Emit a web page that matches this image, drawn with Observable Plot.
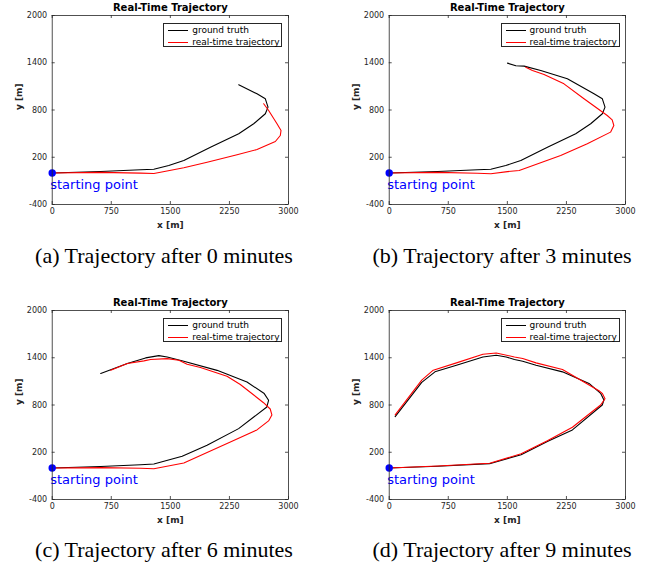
<!DOCTYPE html>
<html><head><meta charset="utf-8">
<script src="https://cdn.jsdelivr.net/npm/d3@7"></script>
<script src="https://cdn.jsdelivr.net/npm/@observablehq/plot@0.6"></script>
<style>
html,body{margin:0;padding:0;background:#fff;}
#fig{position:relative;width:656px;height:568px;overflow:hidden;background:#fff;}
.panel{position:absolute;}
.cap{position:absolute;width:330px;text-align:center;font-family:"Liberation Serif","Times New Roman",serif;font-size:22px;line-height:26px;color:#000;white-space:pre;}
.legend{position:absolute;box-sizing:border-box;border:1px solid #262626;background:#fff;font-family:"DejaVu Sans",sans-serif;font-size:9px;color:#000;}
.legend .row{position:absolute;left:4px;height:12px;line-height:12px;white-space:nowrap;}
.legend .sw{display:inline-block;width:20px;height:1.2px;vertical-align:middle;margin-right:4px;}
</style></head><body><div id="fig"></div>
<script>
// ---- data ----
const xTicks = [0, 750, 1500, 2250, 3000];
const yTicks = [-400, 200, 800, 1400, 2000];
const startPoint = [[0, 0]];
const startLabel = "starting point";
const titleText = "Real-Time Trajectory";
const xLabel = "x [m]";
const yLabel = "y [m]";
const seriesNames = ["ground truth", "real-time trajectory"];
const seriesColors = ["#000000", "#ff0000"];
const captions = ["(a) Trajectory after 0 minutes", "(b) Trajectory after 3 minutes",
                  "(c) Trajectory after 6 minutes", "(d) Trajectory after 9 minutes"];

// (a) after 0 minutes
const gtA = [[0,0],[616,19],[1122,41],[1290,48],[1480,95],[1671,159],[2009,328],[2368,498],[2558,625],[2706,752],[2740,836],[2706,942],[2600,1006],[2368,1120]];
const rtA = [[0,0],[616,8],[1122,-2],[1291,-6],[1375,10],[1671,66],[1967,137],[2347,231],[2600,298],[2833,400],[2896,476],[2905,540],[2854,625],[2748,794],[2685,879]];
// (b) after 3 minutes
const gtB = [[0,0],[616,19],[1122,41],[1290,48],[1480,95],[1671,159],[2009,328],[2368,498],[2558,625],[2706,752],[2740,836],[2706,942],[2600,1006],[2262,1196],[1924,1302],[1713,1357],[1608,1361],[1502,1395]];
const rtB = [[0,0],[616,8],[1122,-4],[1291,-10],[1502,18],[1650,32],[2177,222],[2515,370],[2810,519],[2852,603],[2831,675],[2768,730],[2473,942],[2219,1132],[1966,1251],[1818,1302],[1734,1344]];
// (c) after 6 minutes
const gtC = [[0,0],[616,19],[1122,41],[1291,50],[1650,150],[1966,290],[2367,500],[2725,775],[2747,860],[2692,945],[2473,1092],[2093,1240],[1671,1356],[1460,1410],[1354,1427],[1186,1398],[954,1326],[616,1200]];
const rtC = [[0,0],[616,5],[1122,-4],[1291,-9],[1671,63],[2304,349],[2599,484],[2747,598],[2789,674],[2768,749],[2683,829],[2388,1061],[2219,1166],[1882,1276],[1713,1318],[1608,1368],[1460,1389],[1249,1377],[1165,1360],[954,1326],[743,1242]];
// (d) after 9 minutes
const gtD = [[0,0],[616,22],[1275,55],[1675,169],[2008,337],[2326,484],[2705,800],[2726,863],[2684,948],[2537,1074],[2200,1221],[1864,1305],[1695,1356],[1590,1377],[1485,1410],[1359,1432],[1190,1410],[854,1305],[581,1221],[413,1087],[76,652]];
const rtD = [[0,0],[616,25],[1275,60],[1675,180],[2008,345],[2326,518],[2684,800],[2740,880],[2705,948],[2663,981],[2200,1251],[1864,1335],[1695,1390],[1590,1410],[1359,1461],[1190,1444],[854,1335],[559,1242],[413,1116],[76,674]];

// ---- layout ----
const W = 310, H = 235, ML = 51.7, MT = 15, MR = W - 288, MB = H - 204;
const PW = W - ML - MR, PH = H - MT - MB;
const axisColor = "#262626";
const fmt = d => String(d);

function panel(gt, rt) {
  return Plot.plot({
    width: W, height: H,
    marginLeft: ML, marginTop: MT, marginRight: MR, marginBottom: MB,
    style: {fontFamily: "DejaVu Sans, sans-serif", fontSize: "8px", color: axisColor, background: "transparent", overflow: "visible"},
    x: {domain: [0, 3000]},
    y: {domain: [-400, 2000]},
    marks: [
      Plot.axisX(xTicks, {tickSize: 0, tickPadding: 3.5, fontSize: 8, fill: axisColor, label: null, tickFormat: fmt}),
      Plot.axisY(yTicks, {tickSize: 0, tickPadding: 5, fontSize: 8, fill: axisColor, label: null, tickFormat: fmt}),
      Plot.ruleX(xTicks, {insetTop: PH - 3, stroke: axisColor, strokeWidth: 0.8}),
      Plot.ruleX(xTicks, {insetBottom: PH - 3, stroke: axisColor, strokeWidth: 0.8}),
      Plot.ruleY(yTicks, {insetRight: PW - 3, stroke: axisColor, strokeWidth: 0.8}),
      Plot.ruleY(yTicks, {insetLeft: PW - 3, stroke: axisColor, strokeWidth: 0.8}),
      Plot.line(gt, {x: d => d[0], y: d => d[1], stroke: seriesColors[0], strokeWidth: 1.1}),
      Plot.line(rt, {x: d => d[0], y: d => d[1], stroke: seriesColors[1], strokeWidth: 1.1}),
      Plot.dot(startPoint, {x: d => d[0], y: d => d[1], r: 3.7, fill: "#0000ff", stroke: null}),
      Plot.text(startPoint, {x: d => d[0], y: d => d[1], text: () => startLabel, textAnchor: "start", lineAnchor: "middle", dx: -2, dy: 12, fill: "#0000ff", fontSize: 13}),
      Plot.frame({stroke: axisColor, strokeWidth: 0.8}),
      Plot.text([titleText], {text: d => d, frameAnchor: "top", lineAnchor: "middle", dy: -8, fontWeight: "bold", fontSize: 10, fill: "#000"}),
      Plot.text([xLabel], {text: d => d, frameAnchor: "bottom", lineAnchor: "middle", dy: 21, fontWeight: "bold", fontSize: 9, fill: axisColor}),
      Plot.text([yLabel], {text: d => d, frameAnchor: "left", rotate: -90, dx: -33, fontWeight: "bold", fontSize: 9, fill: axisColor})
    ]
  });
}

const fig = document.getElementById("fig");
const panels = [
  {gt: gtA, rt: rtA, left: 0, top: 0},
  {gt: gtB, rt: rtB, left: 337.3, top: 0},
  {gt: gtC, rt: rtC, left: 0, top: 295},
  {gt: gtD, rt: rtD, left: 337.3, top: 295}
];
panels.forEach((p, i) => {
  const div = document.createElement("div");
  div.className = "panel";
  div.style.left = p.left + "px";
  div.style.top = p.top + "px";
  div.appendChild(panel(p.gt, p.rt));
  fig.appendChild(div);

  // legend (inside the axes, top right)
  const lg = document.createElement("div");
  lg.className = "legend";
  lg.style.left = (p.left + ML + 111.5) + "px";
  lg.style.top = (p.top + MT + 8) + "px";
  lg.style.width = "119px";
  lg.style.height = "24px";
  seriesNames.forEach((name, j) => {
    const row = document.createElement("div");
    row.className = "row";
    row.style.top = (j * 12) + "px";
    const sw = document.createElement("span");
    sw.className = "sw";
    sw.style.background = seriesColors[j];
    row.appendChild(sw);
    row.appendChild(document.createTextNode(name));
    lg.appendChild(row);
  });
  fig.appendChild(lg);

  // caption
  const cap = document.createElement("div");
  cap.className = "cap";
  const cx = i % 2 === 0 ? 164 : 502;
  const cy = i < 2 ? 256 : 550;
  cap.style.left = (cx - 165) + "px";
  cap.style.top = (cy - 13) + "px";
  cap.textContent = captions[i];
  fig.appendChild(cap);
});
</script>
</body></html>
